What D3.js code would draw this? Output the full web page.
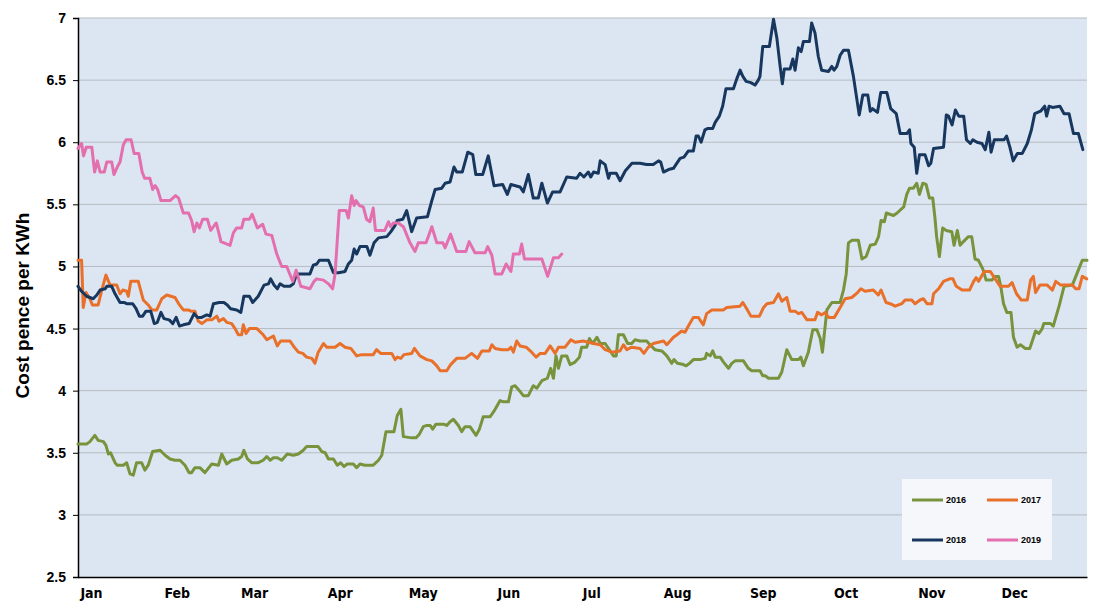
<!DOCTYPE html>
<html lang="en">
<head>
  <meta charset="utf-8">
  <title>Cost pence per KWh</title>
  <script src="https://d3js.org/d3.v7.min.js"></script>
  <style type="text/css">
    body { margin: 0; background: #ffffff; }
    svg text { font-family: "Liberation Sans", Arial, sans-serif; font-weight: bold; fill: #000; }
  </style>
</head>
<body>
  <script type="text/javascript">

// month ticks (day of year where each month starts)
const monthStarts = [0, 31, 59, 90, 120, 151, 181, 212, 243, 273, 304, 334];
const monthLabels = ["Jan", "Feb", "Mar", "Apr", "May", "Jun", "Jul", "Aug", "Sep", "Oct", "Nov", "Dec"];
const yTicks = [2.5, 3, 3.5, 4, 4.5, 5, 5.5, 6, 6.5, 7];
const years = ["2016", "2017", "2018", "2019"];
const colors = ["#77933C", "#E8702A", "#17375E", "#E46FAE"];

// [day of year, pence per KWh]
const s2016 = [[0,3.57],[3.1,3.57],[4.3,3.59],[6.1,3.64],[7.3,3.60],[9.2,3.59],[10.1,3.56],[11,3.49],[11.8,3.50],[13.4,3.42],[14.2,3.40],[16.4,3.40],[17.6,3.42],[18.8,3.33],[20,3.32],[21.2,3.42],[23,3.42],[24.2,3.36],[25.4,3.40],[27,3.51],[29.7,3.52],[31.5,3.48],[33.3,3.45],[35.1,3.44],[36.9,3.44],[38.7,3.40],[40.2,3.34],[41.1,3.34],[42.3,3.38],[44.1,3.38],[45.9,3.34],[48.4,3.41],[50.8,3.40],[52,3.49],[53.8,3.41],[55.6,3.44],[58,3.45],[59.2,3.47],[60,3.52],[61.3,3.45],[62.8,3.42],[65.2,3.42],[67,3.44],[68.3,3.47],[69.5,3.44],[70.7,3.46],[72.1,3.46],[73.7,3.44],[75.7,3.49],[77.9,3.48],[79.7,3.49],[81.5,3.52],[82.7,3.55],[86.9,3.55],[88.2,3.51],[89.4,3.50],[90.6,3.45],[92.4,3.45],[93.8,3.40],[95,3.42],[96.2,3.39],[97.4,3.41],[99.6,3.41],[100.8,3.38],[102,3.41],[103.8,3.40],[106.8,3.40],[108.7,3.44],[109.9,3.48],[111.4,3.67],[112.9,3.67],[114.3,3.67],[115.5,3.80],[116.8,3.85],[117.7,3.63],[120.7,3.62],[122.3,3.62],[123.5,3.65],[124.9,3.71],[126.2,3.72],[127.4,3.72],[128.3,3.69],[129.5,3.73],[132.2,3.73],[133.4,3.72],[134.6,3.75],[135.8,3.77],[137.6,3.72],[138.8,3.67],[140,3.71],[141.8,3.71],[144,3.64],[145.2,3.69],[146.6,3.79],[149.1,3.79],[150.9,3.85],[152.7,3.92],[153.9,3.91],[155.7,3.91],[156.9,4.03],[158.1,4.04],[159.3,4.01],[161.1,3.96],[162.9,3.96],[164.7,4.04],[166,4.02],[167.8,4.08],[169.8,4.10],[171,4.18],[172,4.10],[172.9,4.28],[173.8,4.18],[175,4.28],[176.8,4.28],[178,4.21],[179.8,4.23],[181.4,4.27],[182.2,4.35],[184,4.35],[185,4.42],[186.2,4.38],[187.7,4.43],[188.9,4.38],[190.7,4.38],[192.5,4.32],[193.7,4.28],[194.7,4.28],[195.5,4.45],[197.3,4.45],[198.8,4.38],[200.3,4.38],[201.5,4.41],[203.3,4.40],[205.7,4.40],[206.9,4.37],[208.7,4.33],[211.2,4.32],[213,4.28],[214.8,4.22],[215.6,4.25],[216.8,4.22],[219,4.21],[220,4.20],[221.2,4.22],[222.6,4.25],[225,4.25],[226.9,4.26],[227.4,4.30],[228.7,4.28],[229.6,4.32],[230.5,4.27],[232.3,4.27],[233.5,4.23],[235.3,4.18],[236.5,4.22],[237.7,4.24],[240.7,4.24],[242.5,4.18],[243.7,4.16],[246.7,4.16],[247.7,4.12],[248.6,4.12],[249.8,4.10],[253.4,4.10],[254.6,4.15],[256.4,4.33],[258.2,4.25],[260.6,4.25],[261.5,4.27],[262.4,4.20],[264.2,4.31],[265.8,4.49],[267.3,4.49],[268.5,4.42],[269.3,4.31],[270.9,4.65],[272.7,4.71],[275.7,4.71],[276.9,4.81],[277.9,4.94],[278.7,5.19],[279.9,5.21],[282.3,5.21],[283.6,5.06],[285.1,5.08],[286.6,5.17],[288.4,5.18],[289.6,5.24],[290.5,5.37],[291.7,5.36],[292.4,5.43],[295,5.41],[296.3,5.43],[298.7,5.48],[299.8,5.58],[300.8,5.63],[302.2,5.63],[303.4,5.67],[304.4,5.58],[305.6,5.67],[306.8,5.66],[308,5.55],[309.2,5.55],[310,5.39],[310.6,5.24],[311.6,5.08],[312.8,5.31],[314,5.29],[316.1,5.28],[316.9,5.17],[318.1,5.29],[319.1,5.17],[320.3,5.20],[322.1,5.24],[323.3,5.24],[324.5,5.06],[325.7,5.05],[327.3,4.98],[328.5,4.89],[330.6,4.89],[331.8,4.92],[333,4.92],[333.8,4.84],[334.8,4.70],[336,4.63],[337.5,4.63],[338.4,4.43],[339.7,4.35],[340.9,4.37],[342.7,4.34],[344.3,4.34],[345.5,4.42],[346.4,4.48],[347.6,4.46],[348.8,4.50],[349.4,4.54],[351.8,4.54],[352.8,4.52],[353.7,4.59],[354.9,4.68],[356.7,4.84],[359.7,4.85],[361.5,4.95],[363.3,5.05],[365,5.05]];

const s2017 = [[0,5.05],[1.3,5.05],[1.9,4.67],[2.9,4.79],[4.3,4.74],[5.2,4.69],[7.3,4.69],[8.6,4.81],[10.1,4.93],[11.6,4.85],[14,4.85],[15.2,4.78],[16.2,4.81],[17.6,4.80],[18.2,4.76],[19.1,4.88],[21.8,4.88],[23.6,4.73],[25.4,4.69],[26.7,4.65],[28.5,4.65],[30.3,4.74],[32.1,4.77],[35.1,4.75],[36.7,4.69],[38.1,4.65],[39.9,4.65],[40.8,4.64],[42.3,4.64],[43.5,4.56],[44.8,4.54],[46.6,4.57],[48.4,4.57],[50.2,4.60],[51,4.56],[52.6,4.58],[53.8,4.55],[55.6,4.54],[56.8,4.50],[58,4.45],[59.2,4.45],[59.8,4.53],[60.8,4.46],[62,4.50],[64.7,4.50],[67,4.45],[68.3,4.41],[70.7,4.44],[72.1,4.36],[73.3,4.40],[76.7,4.40],[77.9,4.36],[79.7,4.31],[81.3,4.30],[82.7,4.27],[84.6,4.26],[85.7,4.22],[86.9,4.31],[88.8,4.38],[90,4.35],[93,4.35],[94.8,4.38],[96.6,4.35],[98.7,4.34],[100.8,4.28],[102.6,4.29],[106.8,4.29],[108,4.33],[109.5,4.30],[113.5,4.30],[114.7,4.25],[115.5,4.27],[116.8,4.26],[117.9,4.29],[120.7,4.30],[121.7,4.34],[123.7,4.28],[126.2,4.25],[128,4.24],[129.8,4.20],[131,4.16],[133.4,4.16],[134.8,4.21],[137,4.26],[140,4.26],[142.4,4.30],[144.5,4.26],[146.1,4.32],[148.8,4.32],[149.7,4.37],[150.9,4.34],[153.3,4.33],[155.7,4.33],[156.6,4.35],[157.5,4.31],[158.7,4.40],[159.9,4.36],[162.1,4.35],[164.1,4.31],[165.7,4.27],[167.2,4.30],[169,4.30],[170.8,4.36],[172.6,4.30],[173.8,4.35],[176.2,4.35],[178.3,4.41],[179.8,4.39],[182.8,4.40],[184.6,4.39],[186.5,4.38],[188.9,4.37],[190.7,4.33],[193.1,4.31],[196.1,4.32],[197.3,4.37],[198.5,4.33],[200.3,4.35],[203.3,4.34],[204.7,4.30],[206.3,4.35],[208.1,4.38],[211.8,4.40],[213,4.37],[215.4,4.43],[216.7,4.45],[218.4,4.48],[219.6,4.47],[220.8,4.52],[222.6,4.59],[224.4,4.59],[226.2,4.53],[227.4,4.62],[229.3,4.65],[233.5,4.65],[234.7,4.67],[239.5,4.68],[240.5,4.71],[241.9,4.66],[243.4,4.60],[246.5,4.60],[248,4.67],[249.2,4.70],[251.6,4.71],[253.4,4.78],[254.6,4.72],[256.4,4.75],[257.6,4.64],[259.4,4.64],[260.6,4.62],[261.8,4.63],[263.7,4.57],[266.6,4.57],[267.5,4.63],[269,4.61],[270.3,4.63],[271.5,4.59],[273.6,4.59],[275.7,4.67],[277.5,4.74],[279.9,4.75],[282,4.79],[283.2,4.82],[284.7,4.80],[287.7,4.81],[289.5,4.77],[290.5,4.81],[292.3,4.71],[293.8,4.70],[295.6,4.68],[298,4.70],[299.2,4.73],[301.6,4.73],[302.8,4.70],[304.6,4.73],[305.8,4.74],[307.1,4.70],[308.9,4.70],[309.5,4.78],[311.3,4.82],[313.1,4.88],[315.3,4.90],[316.5,4.90],[317.7,4.84],[319.8,4.81],[322.5,4.81],[324,4.88],[324.9,4.91],[325.8,4.88],[327.8,4.96],[330,4.96],[331.2,4.92],[333.6,4.84],[336.6,4.84],[337.9,4.87],[339.5,4.78],[341.2,4.73],[343.4,4.73],[344.6,4.89],[345.6,4.92],[346.4,4.79],[348,4.85],[350.6,4.85],[352.5,4.81],[353.7,4.88],[355.5,4.85],[359.7,4.85],[360.9,4.82],[362.1,4.82],[363.3,4.92],[364.9,4.90]];

const s2018 = [[0,4.84],[1.3,4.80],[3.1,4.76],[5.5,4.74],[6.8,4.77],[8,4.81],[9.8,4.82],[10.4,4.84],[12.2,4.84],[13.4,4.78],[15.2,4.71],[16.6,4.71],[17.6,4.70],[19.8,4.70],[21,4.66],[22.2,4.60],[23.4,4.60],[24.6,4.64],[26.3,4.64],[27.6,4.54],[28.7,4.55],[30,4.63],[31.1,4.58],[33,4.57],[34.3,4.54],[35.5,4.59],[36.7,4.52],[38.1,4.53],[40.2,4.54],[42,4.62],[43.2,4.59],[44.7,4.59],[46.6,4.61],[47.8,4.60],[49,4.70],[51.1,4.71],[52.8,4.71],[54,4.69],[55.2,4.66],[57.4,4.65],[58.9,4.63],[60,4.76],[62,4.76],[63.2,4.71],[65.2,4.76],[67.3,4.85],[68.9,4.86],[69.7,4.90],[70.9,4.85],[72.1,4.82],[73.1,4.86],[74.5,4.84],[76.7,4.84],[77.9,4.86],[79.1,4.94],[83.9,4.94],[85.1,5.01],[86.4,5.02],[87.3,5.05],[90.6,5.05],[92.4,4.95],[94.2,4.95],[96.6,4.96],[97.8,5.02],[99,5.05],[99.9,5.14],[100.8,5.10],[102,5.16],[104.5,5.16],[105.6,5.09],[107.1,5.19],[108.7,5.23],[111.7,5.24],[113.2,5.28],[114.7,5.33],[115.5,5.37],[117.5,5.38],[118.9,5.45],[120.7,5.28],[122.5,5.39],[126.4,5.40],[128,5.53],[129.2,5.62],[131.6,5.63],[132.8,5.67],[134.6,5.68],[136,5.80],[137,5.76],[139,5.76],[141,5.92],[142.8,5.90],[143.9,5.74],[146.4,5.74],[148.4,5.89],[150.5,5.65],[153.6,5.66],[155.3,5.58],[156.6,5.66],[159.9,5.64],[161.1,5.60],[162.9,5.74],[164.7,5.55],[166.5,5.55],[167.8,5.67],[169.8,5.51],[171.7,5.60],[174.4,5.60],[176.8,5.72],[180.4,5.71],[181.6,5.75],[183,5.72],[184.6,5.76],[185.5,5.72],[186.5,5.76],[188.2,5.75],[188.9,5.85],[190.7,5.82],[191.9,5.71],[192.5,5.75],[194.7,5.75],[196.1,5.69],[198,5.77],[200.4,5.83],[203.3,5.83],[205.7,5.82],[208.1,5.82],[210,5.85],[210.8,5.84],[211.8,5.76],[213.6,5.78],[215.4,5.79],[217.8,5.87],[219.2,5.88],[220.8,5.93],[222.6,5.93],[223.6,6.05],[224.4,6.05],[225.4,6.00],[226.8,6.10],[227.7,6.11],[229.6,6.11],[230.5,6.16],[232,6.21],[233.2,6.29],[234.4,6.43],[237.1,6.43],[238.3,6.51],[239.5,6.58],[240.5,6.53],[241.7,6.49],[243.4,6.48],[244.9,6.46],[246.1,6.50],[246.7,6.53],[247.7,6.77],[250.1,6.77],[251.6,6.99],[252.8,6.84],[254,6.61],[254.8,6.47],[255.5,6.59],[257.6,6.59],[258.6,6.67],[259.4,6.58],[260.6,6.76],[261.6,6.73],[262.4,6.81],[264.6,6.81],[265.4,6.96],[266.6,6.88],[267.8,6.69],[269,6.58],[271.5,6.57],[272.7,6.61],[273.5,6.58],[274.5,6.61],[275.7,6.70],[276.9,6.74],[278.7,6.74],[280.5,6.53],[282.6,6.22],[283.9,6.38],[285.7,6.38],[286.6,6.25],[287.4,6.27],[289.2,6.24],[290.4,6.40],[292.6,6.40],[294,6.27],[296,6.23],[297.4,6.07],[299.8,6.07],[300.8,6.10],[301.3,5.99],[302.5,5.96],[303.4,5.75],[304.4,5.90],[306.4,5.90],[307.7,5.81],[308.5,5.83],[309.5,5.95],[313.1,5.96],[314.1,6.22],[314.9,6.21],[316.2,6.14],[317.4,6.26],[318.6,6.21],[320.4,6.21],[321.4,6.02],[322.8,5.99],[323.7,6.02],[325.2,6.00],[327,5.99],[328.2,5.94],[329.5,6.08],[330.3,5.92],[331.5,6.02],[335,6.02],[335.9,6.05],[337.1,5.96],[338.3,5.85],[339.8,5.91],[341.6,5.91],[343.4,5.99],[344.9,6.10],[346.1,6.23],[348.2,6.25],[349.7,6.29],[350.4,6.21],[351.3,6.29],[352.5,6.28],[355.2,6.29],[356.7,6.23],[358.5,6.23],[360.1,6.07],[361.9,6.07],[363.5,5.94]];

const s2019 = [[0,5.95],[1.3,5.99],[2,5.89],[3,5.96],[5,5.96],[6,5.76],[7,5.85],[8,5.76],[9.5,5.76],[10.4,5.84],[12.2,5.84],[13,5.74],[14.2,5.80],[15.2,5.84],[16.4,5.98],[17.4,6.02],[19.2,6.02],[20.3,5.91],[22,5.91],[23.2,5.76],[24.1,5.71],[26,5.71],[27,5.62],[27.9,5.65],[28.8,5.62],[30,5.53],[33.3,5.53],[35.3,5.57],[36.4,5.55],[38.1,5.43],[40,5.43],[41.1,5.37],[42,5.28],[43,5.35],[43.9,5.31],[45.1,5.38],[46.8,5.38],[48,5.29],[50,5.35],[51.4,5.23],[51.7,5.20],[55,5.17],[56.2,5.27],[57.4,5.31],[59.2,5.31],[60,5.38],[62,5.38],[63,5.42],[64.9,5.31],[66.8,5.34],[68,5.26],[70.1,5.25],[71.9,5.10],[73.7,5.00],[75.5,5.00],[77.7,4.88],[78.9,4.97],[80.6,4.84],[83.9,4.82],[85.4,4.88],[86.3,4.90],[88.8,4.89],[90.6,4.86],[92.1,4.82],[93,4.94],[94.5,5.45],[97,5.45],[97.8,5.39],[99,5.57],[99.9,5.49],[100.6,5.53],[101.8,5.49],[103.2,5.48],[104.4,5.38],[105.6,5.36],[106.8,5.47],[107.6,5.29],[111,5.29],[112.3,5.36],[113.1,5.32],[114.1,5.35],[115.9,5.35],[117.7,5.32],[120.1,5.19],[121.9,5.12],[123.1,5.19],[125.9,5.19],[128,5.32],[129.8,5.19],[132,5.19],[132.8,5.15],[134.8,5.26],[137,5.12],[140.3,5.12],[141.5,5.20],[143.6,5.11],[147.3,5.11],[148.2,5.16],[149.7,5.09],[150.9,4.94],[153.3,4.94],[154.9,5.02],[156.6,4.96],[157.5,5.10],[159.7,5.10],[160.5,5.18],[161.5,5.06],[167.8,5.06],[169.9,4.92],[172,5.07],[173.8,5.07],[175,5.10]];

const seriesData = [s2016, s2017, s2018, s2019];

const width = 1094, height = 603;
const plotLeft = 78, plotRight = 1087, plotTop = 18, plotBottom = 577;

const svg = d3.select("body")
    .append("svg")
    .attr("width", width)
    .attr("height", height);

const xScale = d3.scaleLinear()
    .domain([0, 365])
    .range([plotLeft, plotRight]);

const yScale = d3.scaleLinear()
    .domain([2.5, 7])
    .range([plotBottom, plotTop]);

// plot background
svg.append("rect")
    .attr("x", plotLeft)
    .attr("y", plotTop)
    .attr("width", plotRight - plotLeft)
    .attr("height", plotBottom - plotTop)
    .attr("fill", "#DCE6F2");

// gridlines
svg.append("g")
    .selectAll("line")
    .data(yTicks.filter(d => d > 2.5))
    .enter()
    .append("line")
    .attr("x1", plotLeft)
    .attr("x2", plotRight)
    .attr("y1", d => yScale(d))
    .attr("y2", d => yScale(d))
    .attr("stroke", "#B6BBC1")
    .attr("stroke-width", 1);

// y axis
const yAxis = d3.axisLeft(yScale)
    .tickValues(yTicks)
    .tickFormat(d => d)
    .tickSize(5)
    .tickPadding(7);

const yG = svg.append("g")
    .attr("transform", `translate(${plotLeft}, 0)`)
    .call(yAxis);
yG.select(".domain").attr("stroke", "#000").attr("stroke-width", 1.5);
yG.selectAll(".tick line").attr("stroke", "#000");
yG.selectAll("text")
    .style("font-family", "'Liberation Sans', Arial, sans-serif")
    .style("font-weight", "bold")
    .style("font-size", "14px");

// x axis
const xAxis = d3.axisBottom(xScale)
    .tickValues(monthStarts)
    .tickFormat((d, i) => monthLabels[i])
    .tickSize(0)
    .tickPadding(11);

const xG = svg.append("g")
    .attr("transform", `translate(0, ${plotBottom})`)
    .call(xAxis);
xG.select(".domain").attr("stroke", "#000").attr("stroke-width", 1.5);
xG.selectAll("text")
    .attr("dx", 13)
    .style("font-family", "'Liberation Sans Narrow', 'DejaVu Sans Condensed', Arial, sans-serif")
    .style("font-weight", "bold")
    .style("font-size", "14px");

// y axis title
svg.append("text")
    .attr("text-anchor", "middle")
    .attr("transform", `translate(29, ${(plotTop + plotBottom) / 2 + 8}) rotate(-90)`)
    .style("font-size", "19px")
    .text("Cost pence per KWh");

// lines
const line = d3.line()
    .x(d => xScale(d[0]))
    .y(d => yScale(d[1]));

svg.append("g")
    .selectAll("path")
    .data(seriesData)
    .enter()
    .append("path")
    .attr("d", line)
    .attr("fill", "none")
    .attr("stroke", (d, i) => colors[i])
    .attr("stroke-width", 3)
    .attr("stroke-linejoin", "round")
    .attr("stroke-linecap", "round");

// legend
const legend = svg.append("g")
    .attr("transform", "translate(902, 479)");

legend.append("rect")
    .attr("width", 150)
    .attr("height", 81)
    .attr("fill", "#F5F7FB");

years.forEach((yr, i) => {
    const g = legend.append("g")
        .attr("transform", `translate(${10 + (i % 2) * 75}, ${21 + Math.floor(i / 2) * 40})`);
    g.append("line")
        .attr("x1", 0)
        .attr("x2", 31)
        .attr("stroke", colors[i])
        .attr("stroke-width", 3);
    g.append("text")
        .attr("x", 34)
        .attr("dy", "0.35em")
        .style("font-size", "9px")
        .text(yr);
});

  </script>
</body>
</html>
